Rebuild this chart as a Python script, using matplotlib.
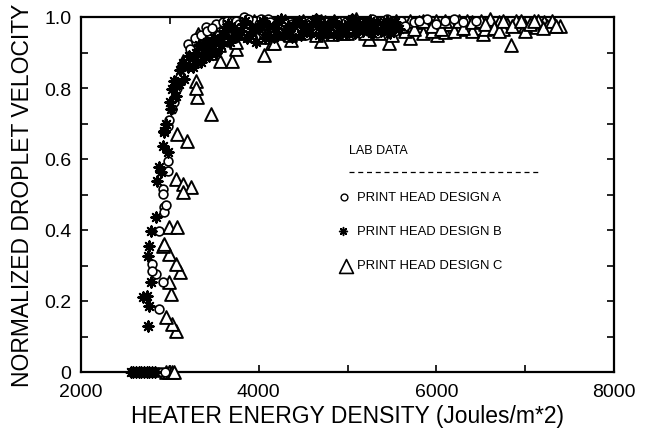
import matplotlib
matplotlib.use("Agg")
import matplotlib.pyplot as plt

# ---------------- data ----------------
a_x = [2790, 2820, 2850, 2880, 2910, 2940,
       2880, 2918, 2843, 2794, 2800, 2880, 2937, 2937, 2918, 2918, 2974, 2974, 2960,
       2974, 2990, 3030, 3050, 3080, 3110, 3140, 3199, 3250, 3300, 3405, 3517, 3593,
       3836, 3700, 3750, 3900, 3950, 4000, 4100, 4150, 4250, 4350, 4450, 4550, 4650,
       4750, 4850, 4950, 5050, 5150, 5250, 5350, 5450, 5600, 5750, 5900, 6100, 6300,
       3450, 3550, 3650, 3800, 4050, 4300, 4500, 4700, 4900, 5100, 5300, 5500,
       3180, 3230, 3280, 3350, 3420, 3480, 3530, 3600, 3640, 3680, 3730, 3780, 3850,
       3880, 3930, 3980, 4030, 4080, 4130, 4180, 4230, 4280, 4330, 4380, 4430, 4480,
       4530, 4580, 4630, 4680, 4730, 4780, 4830, 4880, 4930, 4980, 5030, 5080, 5130,
       5180, 5230, 5280, 5330, 5380, 5420, 5480, 5530, 5650, 5800, 6000, 6200, 6450]
a_y = [0, 0, 0, 0, 0, 0,
       0.177, 0.254, 0.276, 0.304, 0.285, 0.398, 0.464, 0.45, 0.515, 0.502, 0.595, 0.567, 0.47,
       0.694, 0.71, 0.74, 0.76, 0.80, 0.83, 0.86, 0.924, 0.90, 0.93, 0.971, 0.98, 0.987,
       1.0, 0.96, 0.99, 0.97, 0.99, 0.98, 0.995, 0.97, 0.99, 0.985, 0.99, 0.975, 0.995,
       0.985, 0.99, 0.97, 0.995, 0.985, 0.99, 0.98, 0.995, 0.99, 0.985, 0.995, 0.99, 0.985,
       0.94, 0.95, 0.93, 0.95, 0.955, 0.96, 0.955, 0.96, 0.95, 0.96, 0.965, 0.96,
       0.88, 0.91, 0.94, 0.95, 0.96, 0.97, 0.92, 0.96, 0.99, 0.97, 0.94, 0.98, 0.96,
       0.995, 0.945, 0.965, 0.995, 0.95, 0.985, 0.955, 0.97, 0.99, 0.95, 0.98, 0.96, 0.99,
       0.95, 0.985, 0.96, 0.99, 0.955, 0.975, 0.96, 0.99, 0.955, 0.985, 0.96, 0.99, 0.955,
       0.975, 0.96, 0.995, 0.955, 0.99, 0.965, 0.985, 0.96, 0.975, 0.99, 0.98, 0.995, 0.99]

b_x = [2560, 2590, 2620, 2650, 2680, 2710, 2740, 2770, 2800, 2830,
       2750, 2695, 2745, 2768, 2787, 2750, 2760, 2787, 2843, 2854, 2899, 2880, 2937,
       2918, 2974, 2937, 2960, 3012, 3030, 3068, 3000, 3050, 3100, 3161, 3120, 3200,
       3349, 3440, 3280, 3380, 3480, 3550, 3600, 3700, 3800, 3900, 4000, 4100, 4200,
       4300, 4400, 4500, 4600, 4700, 4800, 4900, 5000, 5100, 5200, 5300, 5400, 5500,
       3650, 3850, 4050, 4250, 4450, 4650, 4850, 5050, 5250, 5450,
       3150, 3220, 3260, 3300, 3330, 3370, 3420, 3460, 3500, 3520, 3580, 3620, 3680,
       3720, 3760, 3820, 3870, 3920, 3970, 4020, 4070, 4120, 4170, 4220, 4270, 4330,
       4380, 4430, 4480, 4530, 4580, 4630, 4680, 4730, 4780, 4830, 4880, 4930, 4980,
       5030, 5080, 5130, 5180, 5230, 5280, 5330, 5380, 5430, 5480, 5530, 5580]
b_y = [0, 0, 0, 0, 0, 0, 0, 0, 0, 0,
       0.129, 0.21, 0.215, 0.187, 0.254, 0.328, 0.356, 0.398, 0.436, 0.539, 0.563, 0.577, 0.675,
       0.638, 0.619, 0.68, 0.70, 0.741, 0.797, 0.778, 0.76, 0.82, 0.81, 0.825, 0.85, 0.86,
       0.872, 0.89, 0.88, 0.91, 0.92, 0.93, 0.95, 0.94, 0.96, 0.95, 0.965, 0.95, 0.97,
       0.955, 0.975, 0.96, 0.98, 0.965, 0.975, 0.96, 0.98, 0.97, 0.985, 0.965, 0.98, 0.97,
       0.98, 0.99, 0.99, 0.995, 0.99, 0.995, 0.99, 0.995, 0.99, 0.99,
       0.87, 0.89, 0.86, 0.90, 0.92, 0.89, 0.93, 0.91, 0.94, 0.90, 0.92, 0.96, 0.93,
       0.97, 0.95, 0.98, 0.94, 0.97, 0.93, 0.98, 0.94, 0.975, 0.945, 0.985, 0.95, 0.975,
       0.945, 0.985, 0.95, 0.975, 0.955, 0.985, 0.95, 0.98, 0.955, 0.985, 0.95, 0.975, 0.955,
       0.985, 0.955, 0.98, 0.96, 0.975, 0.955, 0.985, 0.96, 0.975, 0.955, 0.985, 0.965]

c_x = [2960, 2990, 3020, 3050,
       3068, 3020, 2955, 3012, 2993, 3113, 3068, 2993, 2918, 2930, 2993, 3086, 3068,
       3143, 3236, 3143, 3086, 3191, 3311, 3293, 3300, 3461, 3143, 3322, 3566, 3705,
       3743, 4060, 4155, 4173, 4360, 4698, 4829, 4997, 5240, 5465, 5709, 6009, 6103,
       6271, 6530, 6841, 7096, 7395, 7320, 7208, 6700, 6271,
       3400, 3500, 3600, 3800, 3900, 4000, 4100, 4250, 4400, 4500, 4600, 4750, 4900,
       5050, 5150, 5300, 5400, 5550, 5650, 5800, 5900, 6000, 6150, 6350, 6450, 6600,
       6800, 6900, 7000, 7150, 7250, 5850, 5950, 6400, 6550, 6750, 7000, 3250, 3350, 3450,
       3550, 3650, 3700, 3750, 3850, 3950, 4050, 4200, 4300, 4350, 4450, 4550, 4650,
       4700, 4800, 4850, 4950, 5000, 5100, 5200, 5250, 5350, 5450, 5500, 5600, 5700,
       5750, 5850, 5950, 6050, 6100, 6200, 6250, 6300, 6400, 6500, 6550, 6650, 6700,
       6750, 6850, 6950, 7050, 7100, 7200, 7300, 7350]
c_y = [0, 0, 0, 0,
       0.116, 0.135, 0.155, 0.22, 0.253, 0.282, 0.304, 0.332, 0.356, 0.361, 0.408, 0.408, 0.544,
       0.530, 0.520, 0.506, 0.670, 0.652, 0.776, 0.82, 0.80, 0.727, 0.877, 0.952, 0.877, 0.877,
       0.91, 0.892, 0.928, 0.928, 0.935, 0.933, 0.952, 0.954, 0.938, 0.928, 0.942, 0.948, 0.957,
       0.966, 0.952, 0.921, 0.971, 0.976, 0.98, 0.985, 0.985, 0.976,
       0.93, 0.96, 0.94, 0.97, 0.95, 0.98, 0.96, 0.985, 0.97, 0.99, 0.965, 0.985, 0.97,
       0.99, 0.965, 0.985, 0.97, 0.99, 0.96, 0.985, 0.97, 0.99, 0.98, 0.99, 0.97, 0.995,
       0.98, 0.99, 0.975, 0.99, 0.975, 0.955, 0.96, 0.96, 0.965, 0.965, 0.96, 0.88, 0.90, 0.90,
       0.92, 0.975, 0.95, 0.93, 0.955, 0.99, 0.945, 0.955, 0.99, 0.95, 0.955, 0.975, 0.95,
       0.99, 0.96, 0.99, 0.955, 0.975, 0.995, 0.955, 0.99, 0.955, 0.985, 0.95, 0.975, 0.99,
       0.965, 0.99, 0.975, 0.965, 0.99, 0.96, 0.99, 0.97, 0.985, 0.99, 0.98, 0.97, 0.96,
       0.99, 0.975, 0.99, 0.98, 0.99, 0.97, 0.99, 0.975]

x_ticks = [2000, 3000, 4000, 5000, 6000, 7000, 8000]
x_labels = ["2000", "", "4000", "", "6000", "", "8000"]
y_ticks = [0, 0.1, 0.2, 0.3, 0.4, 0.5, 0.6, 0.7, 0.8, 0.9, 1.0]
y_labels = ["0", "", "0.2", "", "0.4", "", "0.6", "", "0.8", "", "1.0"]

series_labels = ["PRINT HEAD DESIGN A", "PRINT HEAD DESIGN B", "PRINT HEAD DESIGN C"]

# ---------------- figure ----------------
plt.rcParams['font.family'] = ['Liberation Sans', 'DejaVu Sans']
fig = plt.figure(figsize=(6.47, 4.35), dpi=100)
ax = fig.add_axes([81/647, 1 - 373/435, (614-81)/647, (373-18)/435])

ax.scatter(c_x, c_y, marker='^', s=85, facecolors='white', edgecolors='black',
           linewidths=1.4, zorder=3, clip_on=False)
ax.scatter(a_x, a_y, marker='o', s=40, facecolors='white', edgecolors='black',
           linewidths=1.2, zorder=4, clip_on=False)
ax.scatter(b_x, b_y, marker=(8, 2, 0), s=55, color='black',
           linewidths=1.5, zorder=5, clip_on=False)

ax.set_xlim(2000, 8000)
ax.set_ylim(0, 1.0)
ax.set_xticks(x_ticks)
ax.set_xticklabels(x_labels)
ax.set_yticks(y_ticks)
ax.set_yticklabels(y_labels)
ax.tick_params(direction='in', length=5, width=1.2, labelsize=14,
               top=True, right=True)
ax.tick_params(axis='y', pad=7)
ax.tick_params(axis='x', pad=8)
for s in ax.spines.values():
    s.set_linewidth(1.6)

ax.set_xlabel("HEATER ENERGY DENSITY (Joules/m*2)", fontsize=16.5, labelpad=3)
ax.set_ylabel("NORMALIZED DROPLET VELOCITY", fontsize=16.5, labelpad=7)

# in-plot legend block
ax.text(5012, 0.626, "LAB DATA", fontsize=9, va='center', ha='left')
ax.plot([5012, 7170], [0.563, 0.563], color='black', lw=0.9, linestyle=(0, (4, 3)))
ax.scatter([4956], [0.493], marker='o', s=24, facecolors='white', edgecolors='black', linewidths=1.0)
ax.scatter([4953], [0.396], marker=(8, 2, 0), s=32, color='black', linewidths=1.1)
ax.scatter([4979], [0.30], marker='^', s=100, facecolors='white', edgecolors='black', linewidths=1.2)
for yy, lab in zip([0.493, 0.396, 0.30], series_labels):
    ax.text(5102, yy, lab, fontsize=9.4, va='center', ha='left')

fig.savefig("out.png", dpi=100)
